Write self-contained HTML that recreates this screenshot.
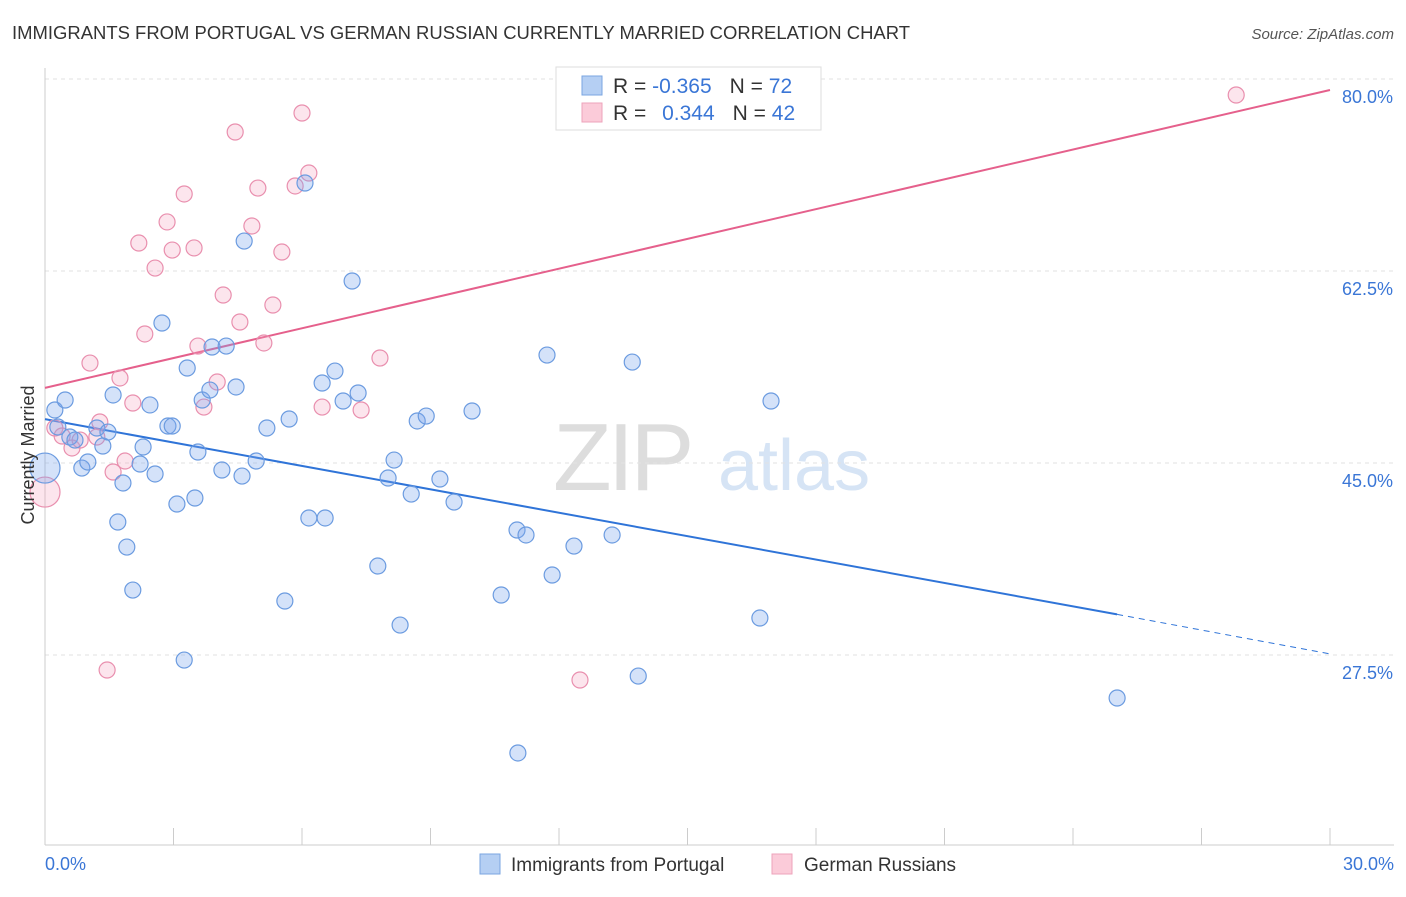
<!DOCTYPE html>
<html><head><meta charset="utf-8"><style>
body{margin:0;background:#fff;font-family:"Liberation Sans",sans-serif}
svg text{font-family:"Liberation Sans",sans-serif}
</style></head><body>
<svg id="c" width="1406" height="892" viewBox="0 0 1406 892">
<text x="12" y="39" font-size="18" fill="#333" textLength="898" lengthAdjust="spacingAndGlyphs">IMMIGRANTS FROM PORTUGAL VS GERMAN RUSSIAN CURRENTLY MARRIED CORRELATION CHART</text>
<text x="1394" y="39" font-size="15" fill="#555" font-style="italic" text-anchor="end">Source: ZipAtlas.com</text>
<g>
<text x="553" y="490" font-size="96" font-family="Liberation Serif,serif" fill="#ddd" letter-spacing="-4">ZIP</text>
<text x="718" y="490" font-size="72" fill="#d6e4f5">atlas</text>
</g>
<g id="grid"></g><g id="axes"></g><g id="trend"></g><g id="pts"></g>
<text transform="translate(34,455) rotate(-90)" font-size="18" fill="#333" text-anchor="middle">Currently Married</text>
<g>
<rect x="556" y="67" width="265" height="63" fill="#fff" stroke="#ddd"/>
<rect x="582" y="76" width="20" height="19" fill="#b5cff3" stroke="#7aa5e0"/>
<rect x="582" y="103" width="20" height="19" fill="#fbcbd9" stroke="#eea3bb"/>
<text x="613" y="93" font-size="21" fill="#333">R = <tspan fill="#3a76d6">-0.365</tspan><tspan dx="18">N = </tspan><tspan fill="#3a76d6">72</tspan></text>
<text x="613" y="120" font-size="21" fill="#333">R = <tspan fill="#3a76d6" dx="10">0.344</tspan><tspan dx="18">N = </tspan><tspan fill="#3a76d6">42</tspan></text>
</g>
<g>
<rect x="480" y="854" width="20" height="20" fill="#b5cff3" stroke="#7aa5e0"/>
<text x="511" y="871" font-size="19" fill="#333">Immigrants from Portugal</text>
<rect x="772" y="854" width="20" height="20" fill="#fbcbd9" stroke="#eea3bb"/>
<text x="804" y="871" font-size="19" fill="#333">German Russians</text>
</g>
</svg>
<script>
const yTicks=[27.5,45.0,62.5,80.0];
const xTickCount=10;
const blueX=[0,0.23,0.47,0.30,0.58,0.70,0.86,1.00,1.21,1.35,1.47,1.59,1.70,1.82,1.91,2.05,2.22,2.29,2.45,2.57,2.73,2.87,2.97,3.08,3.25,3.32,3.50,3.57,3.67,3.85,3.90,4.13,4.23,4.46,4.60,4.65,4.93,5.18,5.60,5.70,6.07,6.16,6.47,6.54,6.77,6.96,7.17,7.31,7.77,8.01,8.15,8.29,8.55,8.69,8.90,9.22,9.55,9.97,10.65,11.02,11.04,11.23,11.72,11.84,12.35,13.24,13.71,13.85,16.69,16.95,25.03];
const blueY=[44.54,49.83,50.74,48.28,47.37,47.09,44.54,45.09,48.19,46.55,47.82,51.20,39.62,43.18,37.34,33.42,44.91,46.46,50.29,44.00,57.76,48.37,48.37,41.26,27.04,53.66,41.81,46.00,50.74,51.65,55.57,44.36,55.66,51.93,43.81,65.23,45.18,48.19,32.42,49.01,70.52,39.99,52.29,39.99,53.38,50.65,61.59,51.38,35.61,43.63,45.27,30.23,42.17,48.83,49.28,43.54,41.44,49.74,32.97,38.89,18.57,38.44,54.84,34.79,37.43,38.44,54.20,25.58,30.87,50.65,23.58];
const pinkX=[0,0.23,0.40,0.63,0.82,1.05,1.28,1.45,1.59,1.75,1.87,2.05,2.19,2.33,2.57,2.85,2.97,3.25,3.48,3.57,3.71,4.02,4.16,4.44,4.55,4.83,4.97,5.11,5.32,5.53,5.84,6.00,6.16,6.47,7.38,7.82,12.49,27.81,1.21];
const pinkY=[42.35,48.19,47.46,46.37,47.09,54.11,48.74,26.13,44.18,52.75,45.18,50.47,65.05,56.76,62.77,66.97,64.41,69.52,64.60,55.66,50.10,52.38,60.31,75.17,57.85,66.60,70.06,55.94,59.40,64.23,70.25,76.90,71.43,50.10,49.83,54.57,25.22,78.54,47.37];
const blueTrend=[[0,49.0],[25.03,31.2],[30,27.6]];
const pinkTrend=[[0,51.85],[30,79.0]];
const NS='http://www.w3.org/2000/svg';
const X=v=>45+v/30*1285;
const Y=v=>79+(80-v)/17.5*192;
function mk(t,a,p){const e=document.createElementNS(NS,t);for(const k in a)e.setAttribute(k,a[k]);p.appendChild(e);return e;}
const grid=document.getElementById('grid'),axes=document.getElementById('axes'),trend=document.getElementById('trend'),pts=document.getElementById('pts');
yTicks.forEach(t=>{
 const l=mk('line',{x1:45,x2:1394,y1:Y(t),y2:Y(t),stroke:'#e2e2e2','stroke-dasharray':'4 4'},grid);
 
 
 const tx=mk('text',{x:1393,y:Y(t)+24,'font-size':18,fill:'#3a76d6','text-anchor':'end'},axes);
 tx.textContent=t.toFixed(1)+'%';
 
 
});
mk('line',{x1:45,x2:45,y1:68,y2:845,stroke:'#ccc'},axes);
mk('line',{x1:45,x2:1394,y1:845,y2:845,stroke:'#ccc'},axes);
for(let i=0;i<=xTickCount;i++){
 const x=X(i*3);
 const tk=mk('line',{x1:x,x2:x,y1:828,y2:845,stroke:'#ccc'},axes);
 
 
}
[[0,'0.0%','start',45],[30,'30.0%','end',1394]].forEach(d=>{
 const t=mk('text',{x:d[3],y:870,'font-size':18,fill:'#3a76d6','text-anchor':d[2]},axes);
 t.textContent=d[1];
 
 
});
function dots(xs,ys,fill,stroke,name){
 xs.forEach((v,i)=>{
  const big=v===0;
  const c=mk('circle',{cx:X(v),cy:Y(ys[i]),r:big?15:8,fill:fill,stroke:stroke,'stroke-width':1.2},pts);
  
  
 });
}
dots(pinkX,pinkY,'rgba(245,160,190,0.28)','#e98fae','german-russians-point');
dots(blueX,blueY,'rgba(120,165,235,0.32)','#6b9be0','portugal-point');
const b1=mk('line',{x1:X(blueTrend[0][0]),y1:Y(blueTrend[0][1]),x2:X(blueTrend[1][0]),y2:Y(blueTrend[1][1]),stroke:'#2f74d8','stroke-width':2},trend);


const b2=mk('line',{x1:X(blueTrend[1][0]),y1:Y(blueTrend[1][1]),x2:X(blueTrend[2][0]),y2:Y(blueTrend[2][1]),stroke:'#2f74d8','stroke-width':1,'stroke-dasharray':'6 5'},trend);


const p1=mk('line',{x1:X(pinkTrend[0][0]),y1:Y(pinkTrend[0][1]),x2:X(pinkTrend[1][0]),y2:Y(pinkTrend[1][1]),stroke:'#e5608c','stroke-width':2},trend);


</script>
</body></html>
